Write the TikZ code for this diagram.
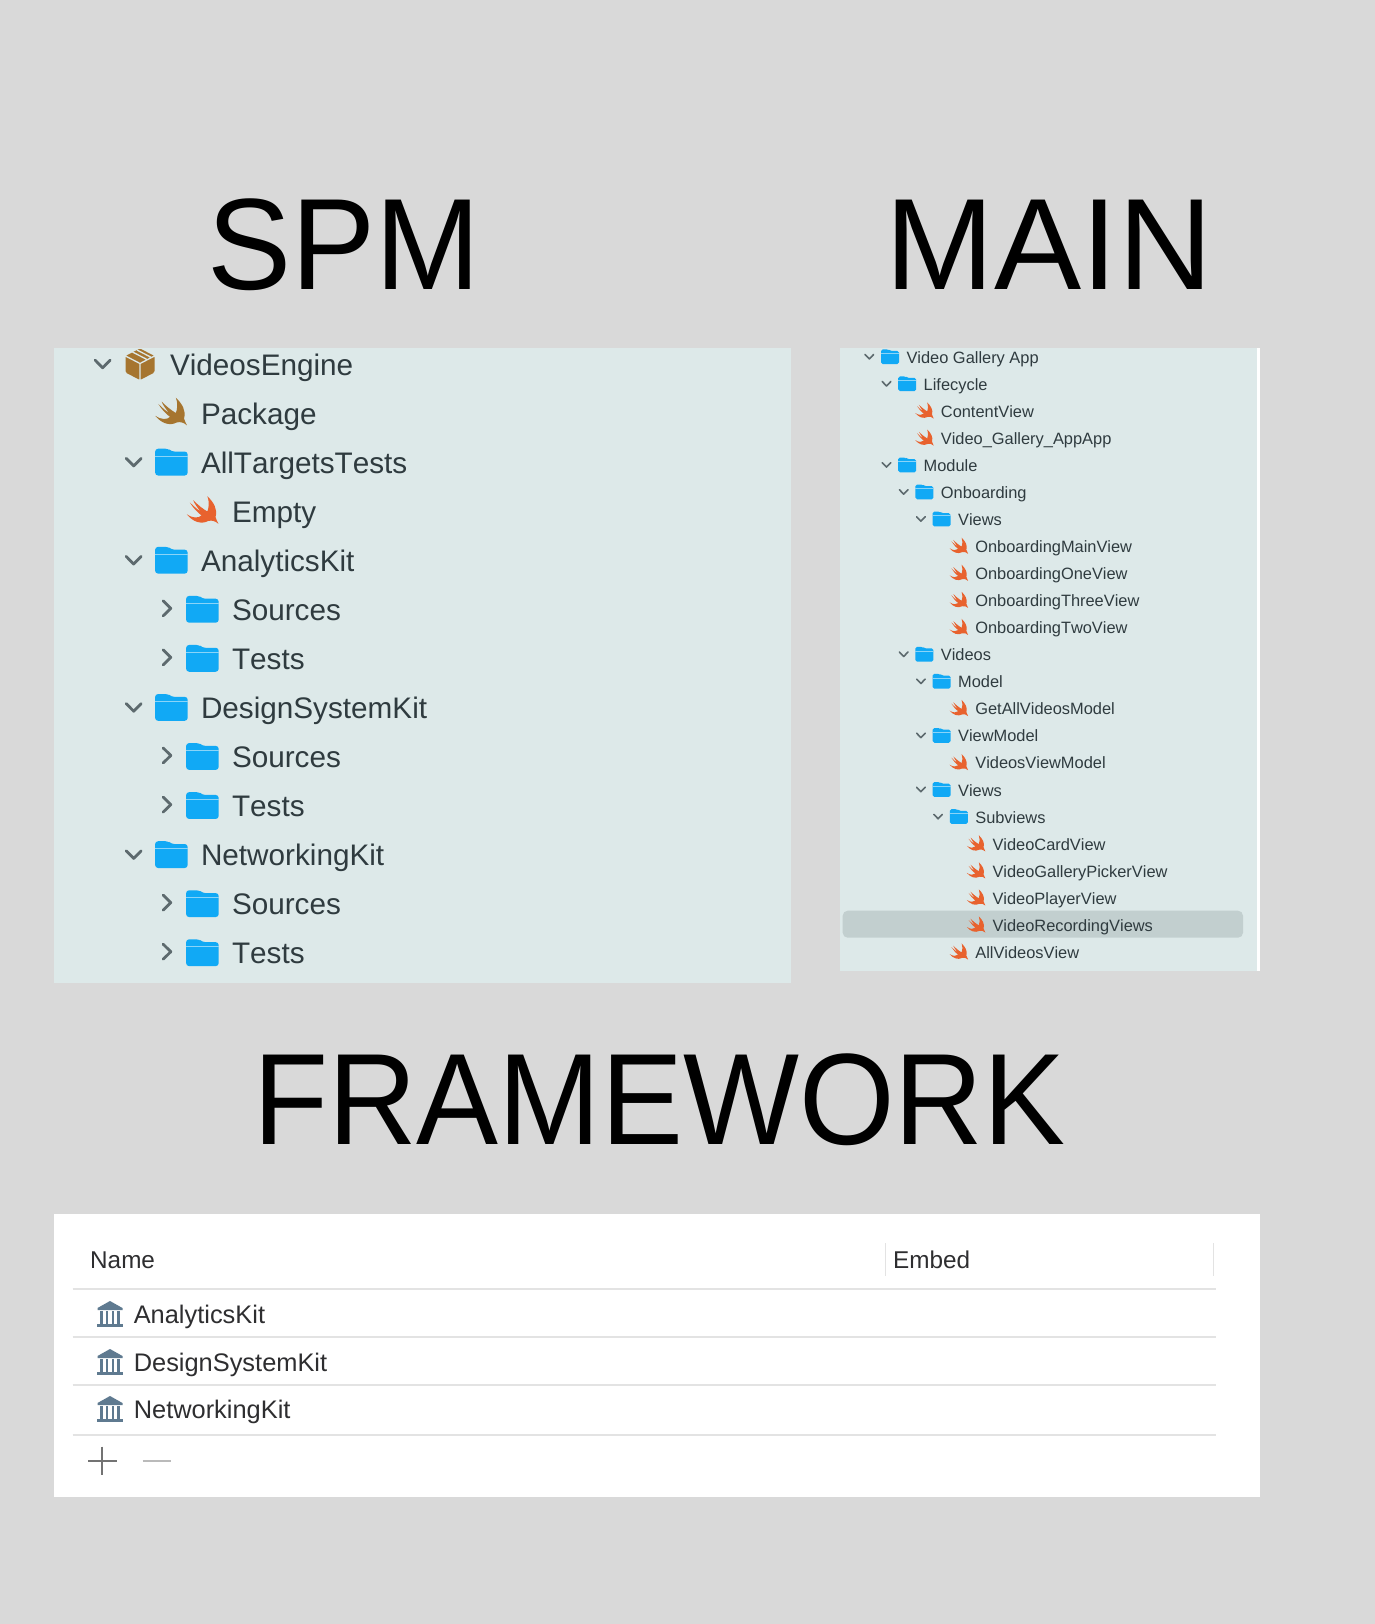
\documentclass[tikz,border=0pt]{standalone}
\usepackage{fontspec}
\usepackage{graphicx}
\setmainfont{Liberation Sans}
\newfontfamily\uifont[Kerning=Off]{Liberation Sans}
\definecolor{bgc}{HTML}{D9D9D9}
\definecolor{panel}{HTML}{DDE9E9}
\definecolor{ink}{HTML}{2F3B3F}
\definecolor{inkb}{HTML}{2E2E30}
\definecolor{fold}{HTML}{11A9F5}
\definecolor{foldl}{HTML}{8AD4F8}
\definecolor{swiftc}{HTML}{E8622E}
\definecolor{brownc}{HTML}{A6752F}
\definecolor{chev}{HTML}{5D6A6E}
\definecolor{hili}{HTML}{C2CFCF}
\definecolor{rule}{HTML}{E3E3E3}
\definecolor{bank}{HTML}{5F7A90}
\tikzset{
  titletext/.style={anchor=base west,inner sep=0pt,font=\fontsize{130}{130}\selectfont,text=black},
  bigtext/.style={anchor=base west,inner sep=0pt,font=\uifont\fontsize{29.7}{30}\selectfont,text=ink},
  smalltext/.style={anchor=base west,inner sep=0pt,font=\uifont\fontsize{16.4}{17}\selectfont,text=ink},
  nametext/.style={anchor=base west,inner sep=0pt,font=\uifont\fontsize{24.3}{25}\selectfont,text=inkb},
  kittext/.style={anchor=base west,inner sep=0pt,font=\uifont\fontsize{25.4}{26}\selectfont,text=inkb},
  chevbig/.style={draw=chev,line width=2.8pt,line cap=round,line join=round},
  chevsmall/.style={draw=chev,line width=1.6pt,line cap=round,line join=round},
  rulestyle/.style={draw=rule,line width=1.8pt}
}
% swift bird, drawn in a box 95 units wide around its centre
\newcommand{\swiftbird}[4]{%
  \fill[#4,shift={(#1,#2)},scale=#3]
    (15,-44) .. controls (34,-25) and (47,-5) .. (40,20)
    .. controls (42,28) and (46,35) .. (49,41)
    .. controls (40,33) and (30,29) .. (18,32)
    .. controls (-5,44) and (-30,34) .. (-48,12)
    .. controls (-30,24) and (-12,24) .. (-3,15)
    .. controls (-16,6) and (-30,-10) .. (-39,-25)
    .. controls (-26,-12) and (-14,-2) .. (-7,2)
    .. controls (-16,-10) and (-24,-20) .. (-29,-32)
    .. controls (-15,-18) and (2,-4) .. (15,3)
    .. controls (20,-10) and (21,-28) .. (15,-44) -- cycle;}
% folder
\newcommand{\folderbig}[2]{%
  \begin{scope}[shift={(#1,#2)}]
    \fill[fold,rounded corners=3pt] (-16.3,13.4) -- (-16.3,-13.4) -- (-3,-13.4) -- (0,-10.6) -- (16.3,-10.6) -- (16.3,13.4) -- cycle;
    \draw[foldl,line width=1.1pt] (-16.3,-6) -- (16.3,-6);
  \end{scope}}
\newcommand{\foldersmall}[2]{%
  \begin{scope}[shift={(#1,#2)}]
    \fill[fold,rounded corners=1.7pt] (-9,7.4) -- (-9,-7.4) -- (-1.7,-7.4) -- (0,-5.8) -- (9,-5.8) -- (9,7.4) -- cycle;
    \draw[foldl,line width=0.7pt] (-9,-3.3) -- (9,-3.3);
  \end{scope}}
\newcommand{\bankicon}[2]{%
  \begin{scope}[shift={(#1,#2)}]
    \fill[bank] (0,-14) -- (12.5,-7) -- (12.5,-5) -- (-12.5,-5) -- (-12.5,-7) -- cycle;
    \foreach \cx in {-8.5,-2.9,2.9,8.5}{\fill[bank] (\cx-1.3,-3.8) rectangle (\cx+1.3,8.5);}
    \fill[bank] (-13,9) rectangle (13,12.3);
  \end{scope}}
\begin{document}
\begin{tikzpicture}[x=1pt,y=-1pt]
\fill[bgc] (0,0) rectangle (1375,1624);
\useasboundingbox (0,0) rectangle (1375,1624);
% panels
\fill[panel] (54,348) rectangle (791,983);
\fill[white] (1240,348) rectangle (1260,971);
\fill[panel] (840,348) rectangle (1256.7,971);
\fill[white] (54,1214) rectangle (1260,1496.7);
\fill[hili,rounded corners=5pt] (842.7,910.7) rectangle (1243,937.7);
% titles
\node[titletext] (tspm) at (207,289.8) {\scalebox{0.97}[1]{SPM}};
\node[titletext] (tmain) at (885.5,289.8) {\scalebox{1.005}[1]{MAIN}};
\node[titletext] (tframe) at (253,1144) {\scalebox{0.945}[1]{FRAMEWORK}};
% SPM tree
\foreach \n/\i/\l/\t in {a/0/0/VideosEngine,b/1/1/Package,c/2/1/AllTargetsTests,d/3/2/Empty,e/4/1/AnalyticsKit,f/5/2/Sources,g/6/2/Tests,h/7/1/DesignSystemKit,j/8/2/Sources,k/9/2/Tests,m/10/1/NetworkingKit,p/11/2/Sources,q/12/2/Tests}{
  \node[bigtext] (spm\n) at ({169.8+31*\l},{375.2+49.06*\i}) {\t};
}
\foreach \i/\l in {2/1,4/1,5/2,6/2,7/1,8/2,9/2,10/1,11/2,12/2}{
  \folderbig{170.7+31*\l-30.3}{364+49.06*\i}
}
\foreach \i/\l in {0/0,2/1,4/1,7/1,10/1}{
  \draw[chevbig,shift={({102.7+31*\l},{364+49.06*\i})}] (-7.5,-3.8) -- (0,3.8) -- (7.5,-3.8);
}
\foreach \i in {5,6,8,9,11,12}{
  \draw[chevbig,shift={(167,{363+49.06*\i})}] (-3.8,-7.5) -- (3.8,0) -- (-3.8,7.5);
}
\swiftbird{171}{412}{0.326}{brownc}
\swiftbird{202.5}{510.5}{0.326}{swiftc}
% package box
\begin{scope}[shift={(140,364)}]
  \fill[brownc,rounded corners=1.5pt] (0,-15.5) -- (14.5,-8) -- (14.5,8.5) -- (0,16) -- (-14.5,8.5) -- (-14.5,-8) -- cycle;
  \draw[panel,line width=1.3pt] (-14.5,-8) -- (0,-0.5) -- (14.5,-8) (0,-0.5) -- (0,16) (-7.5,-12) -- (7,-4.5) (-3,-14) -- (11.5,-6.5);
\end{scope}
% MAIN tree
\foreach \n/\i/\l/\t in {a/0/0/Video Gallery App,b/1/1/Lifecycle,c/2/2/ContentView,d/3/2/Video\_Gallery\_AppApp,e/4/1/Module,f/5/2/Onboarding,g/6/3/Views,h/7/4/OnboardingMainView,j/8/4/OnboardingOneView,k/9/4/OnboardingThreeView,m/10/4/OnboardingTwoView,n/11/2/Videos,p/12/3/Model,q/13/4/GetAllVideosModel,r/14/3/ViewModel,s/15/4/VideosViewModel,t/16/3/Views,u/17/4/Subviews,v/18/5/VideoCardView,w/19/5/VideoGalleryPickerView,x/20/5/VideoPlayerView,y/21/5/VideoRecordingViews,z/22/4/AllVideosView}{
  \node[smalltext] (main\n) at ({906.3+17.2*\l},{363.2+27.05*\i}) {\t};
}
\foreach \i/\l in {0/0,1/1,4/1,5/2,6/3,11/2,12/3,14/3,16/3,17/4}{
  \foldersmall{906.7+17.2*\l-16.7}{356.7+27.05*\i}
  \draw[chevsmall,shift={({869.3+17.2*\l},{356.7+27.05*\i})}] (-4.3,-2.2) -- (0,2.2) -- (4.3,-2.2);
}
\foreach \i/\l in {2/2,3/2,7/4,8/4,9/4,10/4,13/4,15/4,18/5,19/5,20/5,21/5,22/4}{
  \swiftbird{906.7+17.2*\l-16.7}{356.7+27.05*\i}{0.19}{swiftc}
}
% FRAMEWORK table
\node[nametext] (hname) at (90,1268.5) {Name};
\node[nametext] (hembed) at (893,1268.5) {Embed};
\coordinate (ra) at (72.6,1289.3); \coordinate (rb) at (1215.7,1289.3);
\draw[rulestyle] (ra) -- (rb);
\coordinate (sa) at (72.6,1336.7); \coordinate (sb) at (1215.7,1336.7);
\draw[rulestyle] (sa) -- (sb);
\coordinate (ta) at (72.6,1384.7); \coordinate (tb) at (1215.7,1384.7);
\draw[rulestyle] (ta) -- (tb);
\coordinate (ua) at (72.6,1435); \coordinate (ub) at (1215.7,1435);
\draw[rulestyle] (ua) -- (ub);
\coordinate (va) at (885.4,1243); \coordinate (vb) at (885.4,1276);
\draw[rulestyle,line width=1.2pt] (va) -- (vb);
\coordinate (wa) at (1213.6,1243); \coordinate (wb) at (1213.6,1276);
\draw[rulestyle,line width=1.2pt] (wa) -- (wb);
\foreach \n/\y/\t in {ka/1315/AnalyticsKit,kb/1363/DesignSystemKit,kc/1410/NetworkingKit}{
  \node[kittext] (\n) at (133.6,\y+8.6) {\t};
  \bankicon{110}{\y}
}
\coordinate (pa) at (88,1460.7); \coordinate (pb) at (117,1460.7);
\coordinate (pc) at (102.3,1446.5); \coordinate (pd) at (102.3,1475);
\draw[draw=black!55,line width=2pt] (pa) -- (pb) (pc) -- (pd);
\coordinate (ma) at (142.5,1460.7); \coordinate (mb) at (171,1460.7);
\draw[draw=black!27,line width=2pt] (ma) -- (mb);
\end{tikzpicture}
\end{document}
